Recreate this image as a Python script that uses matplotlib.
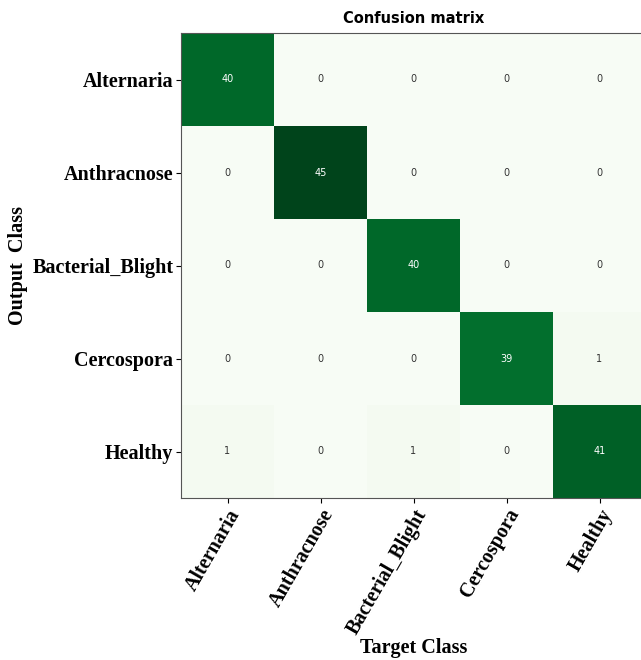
import numpy as np
import matplotlib as mpl
mpl.use("Agg")
import matplotlib.pyplot as plt

classes = ["Alternaria", "Anthracnose", "Bacterial_Blight", "Cercospora", "Healthy"]
cm = np.array([
    [40, 0, 0, 0, 0],
    [0, 45, 0, 0, 0],
    [0, 0, 40, 0, 0],
    [0, 0, 0, 39, 1],
    [1, 0, 1, 0, 41],
])

fig = plt.figure(figsize=(6.41, 6.60), dpi=100)
ax = fig.add_axes([181/641, 1 - 498/660, 465/641, 465/660])
ax.imshow(cm, cmap="Greens", interpolation="nearest", aspect="auto", vmin=0, vmax=45)

thresh = cm.max() / 2.0
for i in range(cm.shape[0]):
    for j in range(cm.shape[1]):
        ax.text(j, i, str(cm[i, j]), ha="center", va="center", fontsize=7,
                color="white" if cm[i, j] > thresh else "#333333")

ax.set_title("Confusion matrix", fontsize=10.5, fontweight="bold", pad=7)

serif = {"family": "Liberation Serif", "weight": "bold"}
ax.set_xticks(range(len(classes)))
ax.set_yticks(range(len(classes)))
ax.tick_params(axis="both", pad=2)
ax.set_xticklabels(classes, rotation=60, ha="right", rotation_mode="anchor",
                   fontsize=14.5, **serif)
ax.set_yticklabels(classes, fontsize=14.5, **serif)
ax.set_xlabel("Target Class", fontsize=14.5, **serif)
ax.set_ylabel("Output  Class", fontsize=14.5, **serif)
ax.xaxis.set_label_coords(0.5, -0.30)
ax.yaxis.set_label_coords(-0.33, 0.5)
for s in ax.spines.values():
    s.set_color("#555555")

fig.savefig("out.png", dpi=100)
